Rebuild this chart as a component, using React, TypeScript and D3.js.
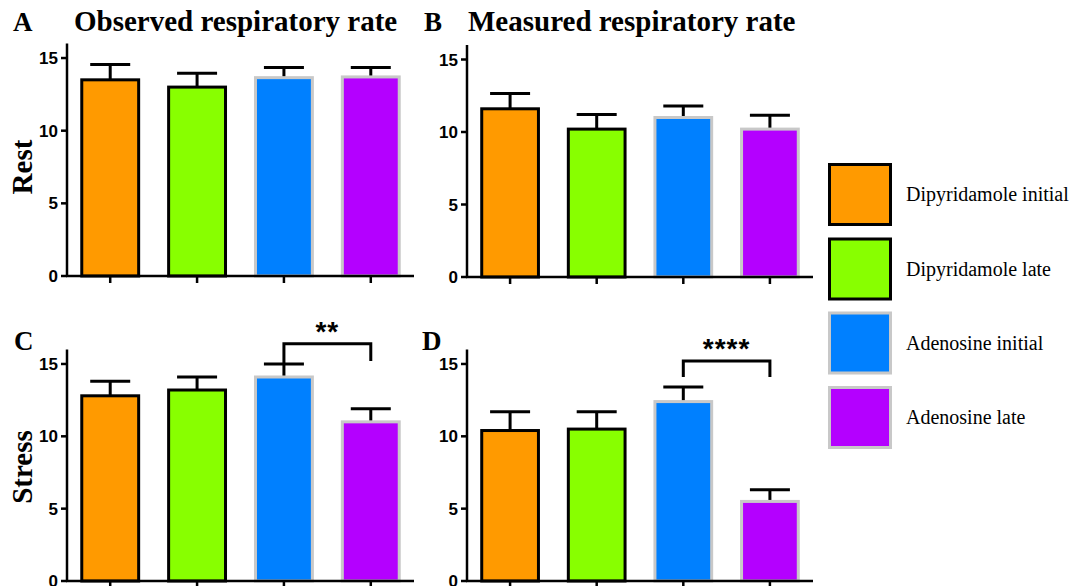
import React from "react";
import * as d3 from "d3";

const categories = ["Dipyridamole initial", "Dipyridamole late", "Adenosine initial", "Adenosine late"];
const colors = ["#ff9a00", "#88ff00", "#0080ff", "#b400ff"];
const outlines = ["#000000", "#000000", "#c8c8c8", "#c8c8c8"];

const observedRest = [13.5, 13.0, 13.65, 13.7];
const observedRestErr = [1.05, 0.95, 0.7, 0.65];
const measuredRest = [11.6, 10.2, 11.0, 10.2];
const measuredRestErr = [1.05, 1.0, 0.8, 0.95];
const observedStress = [12.8, 13.2, 14.1, 11.0];
const observedStressErr = [1.0, 0.9, 0.9, 0.9];
const measuredStress = [10.4, 10.5, 12.4, 5.5];
const measuredStressErr = [1.3, 1.2, 1.0, 0.8];

const yTicks = [0, 5, 10, 15];
const columnTitles = ["Observed respiratory rate", "Measured respiratory rate"];
const rowTitles = ["Rest", "Stress"];
const panelLetters = ["A", "B", "C", "D"];

type Bracket = { from: number; to: number; y: number; leftEnd: number; rightEnd: number; label: string };
const stressObservedBracket: Bracket = { from: 2, to: 3, y: 16.4, leftEnd: 15.0, rightEnd: 15.2, label: "**" };
const stressMeasuredBracket: Bracket = { from: 2, to: 3, y: 15.2, leftEnd: 14.1, rightEnd: 14.1, label: "****" };

type PanelProps = {
  x0: number;
  x1: number;
  yBottom: number;
  yTop: number;
  values: number[];
  errors: number[];
  bracket?: Bracket;
};

function Panel({ x0, x1, yBottom, yTop, values, errors, bracket }: PanelProps) {
  const x = d3.scaleBand<string>().domain(categories).range([x0, x1]).paddingInner(0.345).paddingOuter(0.17);
  const y = d3.scaleLinear().domain([0, 16]).range([yBottom, yTop]);
  const bw = x.bandwidth();
  const cx = (i: number) => (x(categories[i]) as number) + bw / 2;
  return (
    <g>
      {values.map((v, i) => (
        <g key={i}>
          <line x1={cx(i)} x2={cx(i)} y1={y(v)} y2={y(v + errors[i])} stroke="#000" strokeWidth={3} />
          <line x1={cx(i) - 20} x2={cx(i) + 20} y1={y(v + errors[i])} y2={y(v + errors[i])} stroke="#000" strokeWidth={3} />
          <rect
            x={x(categories[i]) as number}
            y={y(v)}
            width={bw}
            height={y(0) - y(v)}
            fill={colors[i]}
            stroke={outlines[i]}
            strokeWidth={3}
          />
        </g>
      ))}
      {/* y axis */}
      <line x1={x0} x2={x0} y1={yTop} y2={yBottom} stroke="#000" strokeWidth={2.5} />
      {yTicks.map((t) => (
        <g key={t}>
          <line x1={x0 - 6} x2={x0} y1={y(t)} y2={y(t)} stroke="#000" strokeWidth={2.5} />
          <text
            x={x0 - 9}
            y={y(t)}
            dy="0.36em"
            textAnchor="end"
            fontFamily="Liberation Sans, Arial, sans-serif"
            fontWeight="bold"
            fontSize={17}
            fill="#000"
          >
            {t}
          </text>
        </g>
      ))}
      {/* x axis */}
      <line x1={x0 - 1} x2={x1} y1={yBottom} y2={yBottom} stroke="#000" strokeWidth={2.5} />
      {categories.map((c, i) => (
        <line key={c} x1={cx(i)} x2={cx(i)} y1={yBottom} y2={yBottom + 7} stroke="#000" strokeWidth={2.5} />
      ))}
      {bracket && (
        <g>
          <path
            d={`M${cx(bracket.from)},${y(bracket.leftEnd)} V${y(bracket.y)} H${cx(bracket.to)} V${y(bracket.rightEnd)}`}
            fill="none"
            stroke="#000"
            strokeWidth={3}
          />
          <text
            x={(cx(bracket.from) + cx(bracket.to)) / 2}
            y={y(bracket.y) - 3}
            textAnchor="middle"
            fontFamily="Liberation Sans, Arial, sans-serif"
            fontWeight="bold"
            fontSize={28}
            letterSpacing={1}
            fill="#000"
          >
            {bracket.label}
          </text>
        </g>
      )}
    </g>
  );
}

export default function App() {
  const serif = "Liberation Serif, Times New Roman, serif";
  const legendY = [163, 237.5, 311.5, 386];
  return (
    <svg
      width={1071}
      height={586}
      style={{ position: "absolute", left: 0, top: 0, background: "#fff" }}
      xmlns="http://www.w3.org/2000/svg"
    >
      <rect x={0} y={0} width={1071} height={586} fill="#fff" />
      {/* titles */}
      <text x={13} y={31} fontFamily={serif} fontWeight="bold" fontSize={27}>{panelLetters[0]}</text>
      <text x={74} y={31} fontFamily={serif} fontWeight="bold" fontSize={29}>{columnTitles[0]}</text>
      <text x={424} y={31} fontFamily={serif} fontWeight="bold" fontSize={27}>{panelLetters[1]}</text>
      <text x={468} y={31} fontFamily={serif} fontWeight="bold" fontSize={29}>{columnTitles[1]}</text>
      <text x={14} y={350} fontFamily={serif} fontWeight="bold" fontSize={27}>{panelLetters[2]}</text>
      <text x={422} y={350} fontFamily={serif} fontWeight="bold" fontSize={27}>{panelLetters[3]}</text>
      <text transform="translate(32,167) rotate(-90)" textAnchor="middle" fontFamily={serif} fontWeight="bold" fontSize={29}>
        {rowTitles[0]}
      </text>
      <text transform="translate(32,467) rotate(-90)" textAnchor="middle" fontFamily={serif} fontWeight="bold" fontSize={29}>
        {rowTitles[1]}
      </text>

      <Panel x0={67} x1={414} yBottom={276} yTop={43.5} values={observedRest} errors={observedRestErr} />
      <Panel x0={467} x1={813} yBottom={277} yTop={45} values={measuredRest} errors={measuredRestErr} />
      <Panel x0={67} x1={414} yBottom={581} yTop={349.5} values={observedStress} errors={observedStressErr} bracket={stressObservedBracket} />
      <Panel x0={467} x1={813} yBottom={581} yTop={349.5} values={measuredStress} errors={measuredStressErr} bracket={stressMeasuredBracket} />

      {/* legend */}
      {categories.map((c, i) => (
        <g key={c}>
          <rect x={829.5} y={legendY[i] + 1.5} width={61} height={60} fill={colors[i]} stroke={outlines[i]} strokeWidth={3} />
          <text x={906} y={legendY[i] + 38} fontFamily={serif} fontSize={20} fill="#000">
            {c}
          </text>
        </g>
      ))}
    </svg>
  );
}
